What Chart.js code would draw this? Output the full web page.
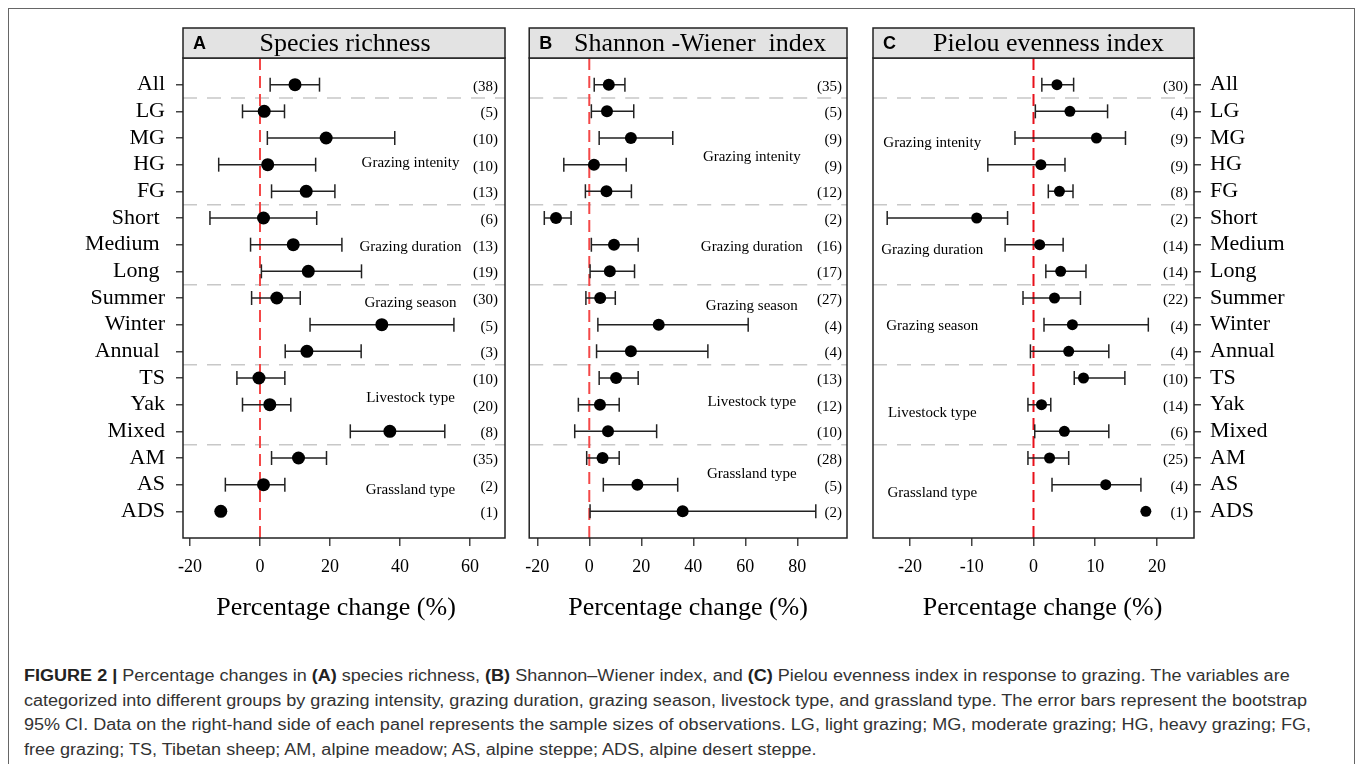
<!DOCTYPE html>
<html>
<head>
<meta charset="utf-8">
<script src="https://cdn.jsdelivr.net/npm/chart.js@4.4.1/dist/chart.umd.min.js"></script>
<style>
  body { margin: 0; background: #fff; width: 1358px; height: 764px; overflow: hidden; position: relative; }
  #frame { position: absolute; left: 8px; top: 8px; width: 1347px; height: 800px; border: 1.5px solid #666; box-sizing: border-box; }
  canvas { position: absolute; top: 0; }
  #caption { position: absolute; left: 24px; top: 664px; font-family: "Liberation Sans", Arial, sans-serif; font-size: 16px;
    line-height: 24.5px; color: #333; white-space: nowrap; transform-origin: 0 0; }
  #caption b { color: #222; }
</style>
</head>
<body>
<div id="frame"></div>
<canvas id="panelA" width="460" height="640" style="left:60px;width:460px;height:640px"></canvas>
<canvas id="panelB" width="345" height="640" style="left:515px;width:345px;height:640px"></canvas>
<canvas id="panelC" width="490" height="640" style="left:860px;width:490px;height:640px"></canvas>
<div id="caption">
  <div id="capLine1"><b>FIGURE 2 |</b> Percentage changes in <b>(A)</b> species richness, <b>(B)</b> Shannon–Wiener index, and <b>(C)</b> Pielou evenness index in response to grazing. The variables are</div>
  <div id="capLine2">categorized into different groups by grazing intensity, grazing duration, grazing season, livestock type, and grassland type. The error bars represent the bootstrap</div>
  <div>95% CI. Data on the right-hand side of each panel represents the sample sizes of observations. LG, light grazing; MG, moderate grazing; HG, heavy grazing; FG,</div>
  <div>free grazing; TS, Tibetan sheep; AM, alpine meadow; AS, alpine steppe; ADS, alpine desert steppe.</div>
</div>
<script>
// rows, top to bottom
const rowLabels = ["All", "LG", "MG", "HG", "FG", "Short ", "Medium ", "Long ", "Summer", "Winter", "Annual ",
  "TS", "Yak", "Mixed", "AM", "AS", "ADS"];
const groupNames = ["Grazing intenity", "Grazing duration", "Grazing season", "Livestock type", "Grassland type"];
const separatorRows = [0.5, 4.5, 7.5, 10.5, 13.5];

// A: species richness
const richMean = [10, 1.2, 18.9, 2.2, 13.2, 1, 9.5, 13.8, 4.8, 34.8, 13.4, -0.3, 2.8, 37.1, 11, 1, -11.2];
const richLow  = [2.9, -5, 2.1, -11.8, 3.3, -14.3, -2.7, 0.4, -2.4, 14.3, 7.2, -6.6, -5, 25.8, 3.3, -9.9, null];
const richHigh = [17, 7, 38.5, 15.9, 21.4, 16.2, 23.4, 29, 11.5, 55.4, 28.9, 7.1, 8.8, 52.8, 19, 7.1, null];
const richN    = [38, 5, 10, 10, 13, 6, 13, 19, 30, 5, 3, 10, 20, 8, 35, 2, 1];
const richTicks = [-20, 0, 20, 40, 60];

// B: Shannon-Wiener index
const shanMean = [7.5, 6.8, 16, 1.8, 6.6, -12.8, 9.5, 7.9, 4.2, 26.7, 16, 10.3, 4.1, 7.2, 5.1, 18.5, 35.9];
const shanLow  = [1.9, 0.8, 3.8, -9.8, -1.5, -17.3, 0.8, 0.3, -1.3, 3.3, 2.8, 3.8, -4.2, -5.6, -1, 5.4, 0.3];
const shanHigh = [13.7, 17.1, 32.1, 14.2, 16.2, -7, 18.8, 17.4, 10, 61.1, 45.6, 18.8, 11.5, 25.9, 11.5, 34, 87.1];
const shanN    = [35, 5, 9, 9, 12, 2, 16, 17, 27, 4, 4, 13, 12, 10, 28, 5, 2];
const shanTicks = [-20, 0, 20, 40, 60, 80];

// C: Pielou evenness index
const pielMean = [3.8, 5.9, 10.2, 1.2, 4.2, -9.2, 1, 4.4, 3.4, 6.3, 5.7, 8.1, 1.3, 5, 2.6, 11.7, 18.2];
const pielLow  = [1.35, 0.3, -3, -7.4, 2.4, -23.7, -4.6, 2, -1.7, 1.7, -0.5, 6.6, -0.9, 0.2, -0.9, 3, null];
const pielHigh = [6.5, 12, 14.9, 5.1, 6.4, -4.2, 4.8, 8.5, 7.6, 18.6, 12.2, 14.8, 2.8, 12.2, 5.7, 17.4, null];
const pielN    = [30, 4, 9, 9, 8, 2, 14, 14, 22, 4, 4, 10, 14, 6, 25, 4, 1];
const pielTicks = [-20, -10, 0, 10, 20];

const SERIF = "'Liberation Serif', 'Times New Roman', serif";
const SANS = "'Liberation Sans', Arial, sans-serif";

const panelDecor = {
  id: "panelDecor",
  afterDraw(chart, args, o) {
    const { ctx, chartArea: a, scales } = chart;
    ctx.save();
    // plot frame
    ctx.strokeStyle = "#222";
    ctx.lineWidth = 1.5;
    ctx.strokeRect(a.left, a.top, a.right - a.left, a.bottom - a.top);
    // title box
    ctx.fillStyle = "#e3e3e3";
    ctx.fillRect(a.left, 28, a.right - a.left, a.top - 28);
    ctx.strokeRect(a.left, 28, a.right - a.left, a.top - 28);
    ctx.fillStyle = "#000";
    ctx.textBaseline = "middle";
    ctx.textAlign = "left";
    ctx.font = "bold 18px " + SANS;
    ctx.fillText(o.letter, a.left + 10, 44);
    ctx.textAlign = "center";
    ctx.font = "26px " + SERIF;
    ctx.fillText(o.title, (a.left + a.right) / 2 + o.titleShift, 44);
    // x axis title
    ctx.fillText("Percentage change (%)", (a.left + a.right) / 2 + o.axisShift, 608);
    // sample sizes
    ctx.font = "15px " + SERIF;
    ctx.textAlign = "right";
    o.counts.forEach((n, i) => {
      ctx.fillText("(" + n + ")", a.right - o.countInset, scales.y.getPixelForValue(i) + 2);
    });
    // group names
    ctx.textAlign = "center";
    groupNames.forEach((g, k) => {
      ctx.fillText(g, scales.x.getPixelForValue(o.groupX), scales.y.getPixelForValue(o.groupRows[k]));
    });
    ctx.restore();
  }
};

function makePanel(id, cfg) {
  const points = cfg.mean.map((v, i) => ({ x: v, y: i }));
  const whiskers = [];
  cfg.low.forEach((lo, i) => {
    if (lo === null) return;
    whiskers.push({ x: lo, y: i }, { x: cfg.high[i], y: i }, { x: null, y: null });
  });
  const seps = [];
  separatorRows.forEach(r => seps.push({ x: cfg.min, y: r }, { x: cfg.max, y: r }, { x: null, y: null }));

  const yAxis = {
    type: "linear", min: -1, max: 17, reverse: true,
    display: cfg.side !== "none",
    position: cfg.side === "right" ? "right" : "left",
    afterBuildTicks: s => { s.ticks = rowLabels.map((_, i) => ({ value: i })); },
    afterFit: s => { s.width = cfg.yWidth; },
    ticks: { autoSkip: false, callback: v => rowLabels[v], font: { family: SERIF, size: 22 }, color: "#000", padding: cfg.yPad },
    grid: { drawOnChartArea: false, tickLength: 7, color: "#444", lineWidth: 1.5 },
    border: { display: false }
  };

  new Chart(document.getElementById(id), {
    type: "scatter",
    data: {
      datasets: [
        { data: points, pointRadius: cfg.r, backgroundColor: "#000", borderWidth: 0, showLine: false },
        { data: whiskers, showLine: true, borderColor: "#222", borderWidth: 1.5, pointStyle: "line",
          pointRotation: 90, pointRadius: 7, pointBorderColor: "#222", pointBorderWidth: 1.5, spanGaps: false },
        { data: [{ x: 0, y: -1 }, { x: 0, y: 17 }], showLine: true, borderColor: cfg.zeroColor, borderWidth: 2,
          borderDash: [12, 6], pointRadius: 0 },
        { data: seps, showLine: true, borderColor: "#c8c8c8", borderWidth: 1.5, borderDash: [14, 10],
          pointRadius: 0, spanGaps: false }
      ]
    },
    options: {
      responsive: false, animation: false, events: [],
      layout: { padding: cfg.padding },
      plugins: {
        legend: { display: false }, tooltip: { enabled: false },
        panelDecor: cfg.decor
      },
      scales: {
        x: {
          type: "linear", min: cfg.min, max: cfg.max,
          afterBuildTicks: s => { s.ticks = cfg.ticks.map(v => ({ value: v })); },
          afterFit: s => { s.height = 102; },
          ticks: { callback: v => String(v), font: { family: SERIF, size: 18 }, color: "#000", padding: 10 },
          grid: { drawOnChartArea: false, tickLength: 8, color: "#444", lineWidth: 1.5 },
          border: { display: false }
        },
        y: yAxis
      }
    },
    plugins: [panelDecor]
  });
}

makePanel("panelA", {
  mean: richMean, low: richLow, high: richHigh, ticks: richTicks, min: -22, max: 70, r: 6.5,
  side: "left", yWidth: 123, yPad: 11, zeroColor: "#f44848",
  padding: { left: 0, right: 15, top: 58, bottom: 0 },
  decor: { letter: "A", title: "Species richness", titleShift: 1, axisShift: -8, counts: richN, countInset: 7,
    groupX: 43, groupRows: [2.95, 6.1, 8.2, 11.75, 15.2] }
});

makePanel("panelB", {
  mean: shanMean, low: shanLow, high: shanHigh, ticks: shanTicks, min: -23.1, max: 99.1, r: 6,
  side: "none", yWidth: 0, yPad: 0, zeroColor: "#f44848",
  padding: { left: 11, right: 13, top: 58, bottom: 0 },
  decor: { letter: "B", title: "Shannon -Wiener  index", titleShift: 12, axisShift: 0, counts: shanN, countInset: 5,
    groupX: 62.5, groupRows: [2.7, 6.1, 8.3, 11.9, 14.6] }
});

makePanel("panelC", {
  mean: pielMean, low: pielLow, high: pielHigh, ticks: pielTicks, min: -26, max: 26, r: 5.5,
  side: "right", yWidth: 156, yPad: 9, zeroColor: "#e8101a",
  padding: { left: 13, right: 0, top: 58, bottom: 0 },
  decor: { letter: "C", title: "Pielou evenness index", titleShift: 15, axisShift: 9, counts: pielN, countInset: 6,
    groupX: -16.4, groupRows: [2.2, 6.2, 9.05, 12.3, 15.3] }
});

// stretch caption so the long line spans like the original
const cap = document.getElementById("caption");
const w = document.getElementById("capLine2").getBoundingClientRect().width;
cap.style.transform = "scaleX(" + (1287 / w) + ")";
</script>
</body>
</html>
